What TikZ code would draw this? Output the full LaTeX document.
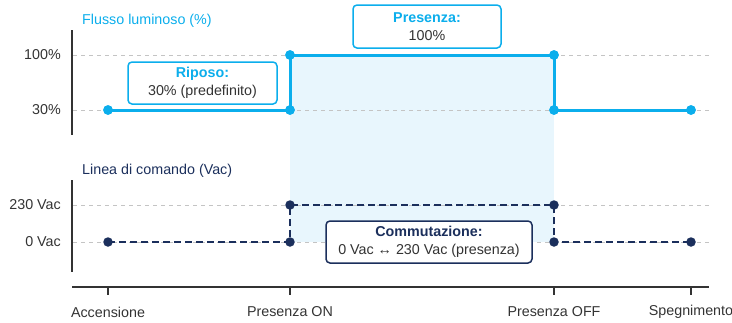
\documentclass[tikz,border=0pt]{standalone}
\usepackage{fontspec}
\setmainfont{Liberation Sans}
\definecolor{cyanl}{HTML}{0BAEEC}
\definecolor{navy}{HTML}{1B2F5C}
\definecolor{txt}{HTML}{333333}
\definecolor{shadebg}{HTML}{E8F6FD}
\definecolor{gridc}{HTML}{C4C4C4}
\begin{document}
\begin{tikzpicture}[x=1pt,y=-1pt,
  every node/.style={font=\fontsize{14.3}{18}\selectfont, text=txt, inner sep=0pt},
  gridln/.style={gridc, line width=0.9pt, dash pattern=on 4pt off 4pt},
  axisln/.style={txt, line width=1.8pt},
  topln/.style={cyanl, line width=3pt},
  botln/.style={navy, line width=2.2pt, dash pattern=on 7pt off 4pt},
  cdot/.style={circle, fill=cyanl, minimum size=9.5pt},
  ndot/.style={circle, fill=navy, minimum size=9.5pt},
  cbox/.style={draw=cyanl, line width=1.5pt, fill=white, rounded corners=4pt, align=center},
  nbox/.style={draw=navy, line width=1.5pt, fill=white, rounded corners=4pt, align=center},
  ylab/.style={anchor=east},
  xlab/.style={anchor=center}]
\useasboundingbox (0,0) rectangle (732,322);
% shading
\coordinate (s1) at (290,55); \coordinate (s2) at (554,242);
\fill[shadebg] (s1) rectangle (s2);
% gridlines
\coordinate (g1a) at (73,55);  \coordinate (g1b) at (710,55);
\coordinate (g2a) at (73,110); \coordinate (g2b) at (710,110);
\coordinate (g3a) at (73,205); \coordinate (g3b) at (710,205);
\coordinate (g4a) at (73,242); \coordinate (g4b) at (710,242);
\draw[gridln] (g1a) -- (g1b);
\draw[gridln] (g2a) -- (g2b);
\draw[gridln] (g3a) -- (g3b);
\draw[gridln] (g4a) -- (g4b);
% axes
\coordinate (ta1) at (72,30); \coordinate (ta2) at (72,135);
\coordinate (ba1) at (72,180); \coordinate (ba2) at (72,272);
\draw[axisln] (ta1) -- (ta2);
\draw[axisln] (ba1) -- (ba2);
\coordinate (xa1) at (72,287); \coordinate (xa2) at (709,287);
\draw[axisln] (xa1) -- (xa2);
\foreach \n/\x in {t1/108,t2/290,t3/554,t4/691}{
  \coordinate (\n a) at (\x,287); \coordinate (\n b) at (\x,295);
  \draw[axisln] (\n a) -- (\n b);
}
% titles
\node[anchor=west, text=cyanl] (title1) at (82,21) {Flusso luminoso (\%)};
\node[anchor=west, text=navy] (title2) at (82,171) {Linea di comando (Vac)};
% y labels
\node[ylab] (l100) at (61,55) {100\%};
\node[ylab] (l30) at (61,110) {30\%};
\node[ylab] (l230) at (61,205) {230 Vac};
\node[ylab] (l0) at (61,242) {0 Vac};
% x labels
\node[xlab] (xl1) at (108,312) {Accensione};
\node[xlab] (xl2) at (290,312) {Presenza ON};
\node[xlab] (xl3) at (554,312) {Presenza OFF};
\node[xlab] (xl4) at (691,312) {Spegnimento};
% top step line
\node[cdot] (a1) at (108,110) {};
\node[cdot] (a2) at (290,110) {};
\node[cdot] (a3) at (290,55) {};
\node[cdot] (a4) at (554,55) {};
\node[cdot] (a5) at (554,110) {};
\node[cdot] (a6) at (691,110) {};
\draw[topln] (a1.center) -- (a2.center) -- (a3.center) -- (a4.center) -- (a5.center) -- (a6.center);
\foreach \n in {a1,a2,a3,a4,a5,a6}{\fill[cyanl] (\n) circle (4.8pt);}
% bottom step line
\coordinate (b1) at (108,242);
\coordinate (b2) at (290,242);
\coordinate (b3) at (290,205);
\coordinate (b4) at (554,205);
\coordinate (b5) at (554,242);
\coordinate (b6) at (691,242);
\draw[botln] (b1) -- (b2) -- (b3) -- (b4) -- (b5) -- (b6);
\foreach \n in {b1,b2,b3,b4,b5,b6}{\node[ndot] (d\n) at (\n) {};}
% boxes
\node[cbox, minimum width=149pt, minimum height=42pt] (riposo) at (202.5,83)
  {{\bfseries\color{cyanl}Riposo:}\\30\% (predefinito)};
\node[cbox, minimum width=148pt, minimum height=43pt] (presenza) at (427,26.5)
  {{\bfseries\color{cyanl}Presenza:}\\100\%};
\node[nbox, minimum width=206pt, minimum height=42pt] (comm) at (429,242)
  {{\bfseries\color{navy}Commutazione:}\\0 Vac ↔ 230 Vac (presenza)};
\end{tikzpicture}
\end{document}
